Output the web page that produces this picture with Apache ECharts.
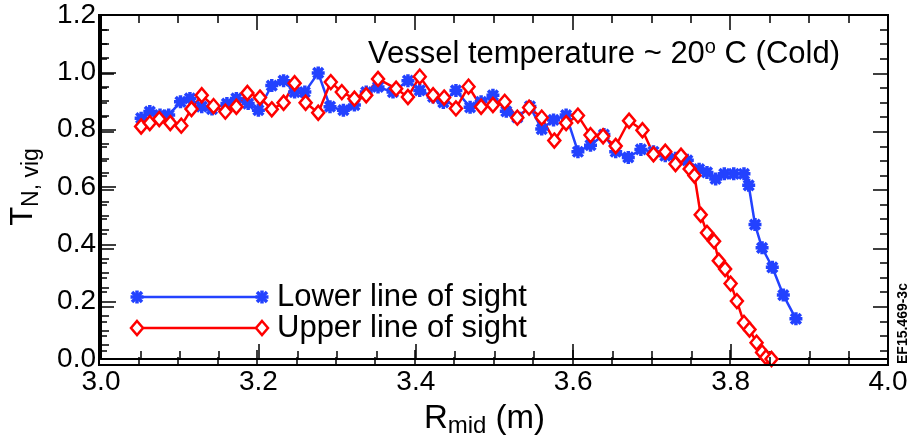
<!DOCTYPE html>
<html lang="en">
<head>
<meta charset="UTF-8">
<title>Vignetting</title>
<style>
  html, body { margin: 0; padding: 0; background: #fff; }
  #wrap { position: relative; width: 915px; height: 443px; }
  #main, #frame { position: absolute; left: 0; top: 0; width: 915px; height: 443px; }
  #frame { pointer-events: none; }
</style>
</head>
<body>
<div id="wrap">
  <div id="main"></div>
  <div id="frame"></div>
</div>
<script type="text/javascript" src="https://cdn.jsdelivr.net/npm/echarts@6/dist/echarts.min.js"></script>
<script type="text/javascript">
// lower line of sight (blue)
var lowerR = [3.051,3.062,3.075,3.086,3.101,3.113,3.128,3.141,3.160,3.172,3.187,3.200,3.217,3.232,3.246,
  3.259,3.276,3.291,3.308,3.322,3.337,3.352,3.371,3.390,3.405,3.422,3.435,3.451,3.469,3.483,
  3.498,3.515,3.529,3.545,3.560,3.575,3.591,3.606,3.622,3.639,3.654,3.670,3.686,3.702,3.717,
  3.730,3.745,3.760,3.770,3.781,3.792,3.804,3.817,3.823,3.831,3.840,3.853,3.867,3.883];
var lowerT = [0.840,0.863,0.851,0.851,0.897,0.909,0.880,0.872,0.891,0.909,0.891,0.868,0.954,0.971,0.931,
  0.931,0.998,0.880,0.868,0.886,0.931,0.949,0.931,0.971,0.937,0.914,0.895,0.937,0.878,0.897,
  0.920,0.864,0.843,0.881,0.802,0.834,0.851,0.723,0.746,0.783,0.723,0.703,0.731,0.723,0.709,
  0.700,0.693,0.662,0.651,0.628,0.646,0.646,0.646,0.606,0.469,0.388,0.320,0.223,0.140];

// upper line of sight (red)
var upperR = [3.051,3.062,3.074,3.088,3.102,3.115,3.128,3.143,3.158,3.172,3.186,3.202,3.217,3.232,3.246,
  3.260,3.276,3.292,3.306,3.322,3.337,3.352,3.375,3.390,3.405,3.422,3.436,3.451,3.467,3.483,
  3.498,3.513,3.529,3.544,3.560,3.576,3.591,3.606,3.622,3.638,3.654,3.671,3.688,3.702,3.717,
  3.730,3.737,3.748,3.754,3.762,3.770,3.779,3.785,3.793,3.800,3.808,3.817,3.824,3.833,3.840,
  3.845,3.852];
var upperT = [0.811,0.823,0.837,0.823,0.814,0.872,0.920,0.882,0.863,0.880,0.928,0.912,0.871,0.894,0.962,
  0.894,0.859,0.966,0.931,0.908,0.920,0.977,0.943,0.914,0.985,0.920,0.912,0.874,0.950,0.880,
  0.886,0.897,0.842,0.877,0.842,0.762,0.823,0.849,0.781,0.777,0.743,0.831,0.798,0.714,0.723,
  0.680,0.709,0.663,0.640,0.503,0.440,0.411,0.343,0.314,0.263,0.202,0.126,0.103,0.057,0.023,
  0.006,0.0];

var seriesNames = ['Lower line of sight', 'Upper line of sight'];
var xTicks = [3.0, 3.2, 3.4, 3.6, 3.8, 4.0];
var yTicks = [0.0, 0.2, 0.4, 0.6, 0.8, 1.0, 1.2];

var BLUE = '#2342ff', RED = '#ff0000';
var FONT = 'Liberation Sans';
// asterisk marker like IDL psym=2
var STAR = 'path://M0,-6L0,6M-6,0L6,0M-4.5,-4.5L4.5,4.5M-4.5,4.5L4.5,-4.5';
var GRID = { left: 99, right: 27, top: 15, bottom: 78 };

function pairs(xs, ys) {
  var out = [];
  for (var i = 0; i < xs.length; i++) out.push([xs[i], ys[i]]);
  return out;
}

function fmt(v) { return v.toFixed(1); }

function xAxis(pos, labels) {
  return {
    type: 'value', position: pos, min: xTicks[0], max: xTicks[xTicks.length - 1], interval: 0.2,
    axisLine: { show: true, onZero: false, lineStyle: { color: '#000', width: 2 } },
    axisTick: { show: true, inside: true, length: 15, lineStyle: { color: '#000', width: 1.5 } },
    minorTick: { show: true, splitNumber: 4, length: 8, lineStyle: { color: '#000', width: 1.5 } },
    splitLine: { show: false },
    axisLabel: { show: labels, fontSize: 28, fontFamily: FONT, color: '#000', margin: 9, formatter: fmt }
  };
}
function yAxis(pos, labels) {
  return {
    type: 'value', position: pos, min: yTicks[0], max: yTicks[yTicks.length - 1], interval: 0.2,
    axisLine: { show: true, onZero: false, lineStyle: { color: '#000', width: 2 } },
    axisTick: { show: true, inside: true, length: 15, lineStyle: { color: '#000', width: 1.5 } },
    minorTick: { show: true, splitNumber: 4, length: 8, lineStyle: { color: '#000', width: 1.5 } },
    splitLine: { show: false },
    axisLabel: { show: labels, fontSize: 28, fontFamily: FONT, color: '#000', margin: 5, formatter: fmt }
  };
}

var xa = xAxis('bottom', true);
xa.name = 'R{sub|mid} (m)';
xa.nameLocation = 'middle';
xa.nameGap = 40;
xa.nameTextStyle = { fontSize: 33, fontFamily: FONT, color: '#000', padding: [0, 20, 0, 0],
  rich: { sub: { fontSize: 24, fontFamily: FONT, padding: [15, 0, 0, 0] } } };

var ya = yAxis('left', true);
ya.name = 'T{sub|N, vig}';
ya.nameLocation = 'middle';
ya.nameRotate = 90;
ya.nameGap = 58;
ya.nameTextStyle = { fontSize: 31, fontFamily: FONT, color: '#000',
  rich: { sub: { fontSize: 23, fontFamily: FONT, padding: [16, 0, 0, 0] } } };

// legend drawn as graphic rows: line with a marker at both ends
function legendRow(y, color, marker, label) {
  var x1 = 137, x2 = 262;
  var els = [{ type: 'line', shape: { x1: x1, y1: y, x2: x2, y2: y }, style: { stroke: color, lineWidth: 2.5 } }];
  [x1, x2].forEach(function (x) {
    if (marker === 'star') {
      [[0, -6.5, 0, 6.5], [-6.5, 0, 6.5, 0], [-5, -5, 5, 5], [-5, 5, 5, -5]].forEach(function (s) {
        els.push({ type: 'line', shape: { x1: x + s[0], y1: y + s[1], x2: x + s[2], y2: y + s[3] },
          style: { stroke: color, lineWidth: 3.5 } });
      });
    } else {
      els.push({ type: 'polygon', shape: { points: [[x, y - 7], [x + 6, y], [x, y + 7], [x - 6, y]] },
        style: { stroke: color, lineWidth: 2.5, fill: '#fff' } });
    }
  });
  els.push({ type: 'text', x: 277, y: y, style: { text: label, fontSize: 31, fontFamily: FONT,
    fill: '#000', verticalAlign: 'middle' } });
  return { type: 'group', children: els };
}

// data, labels, names, title and legend
var myChart = echarts.init(document.getElementById('main'));
myChart.setOption({
  animation: false,
  grid: GRID,
  title: {
    text: 'Vessel temperature ~ 20{sup|o} C (Cold)',
    right: 70, top: 32,
    textStyle: { fontSize: 31, fontWeight: 'normal', fontFamily: FONT, color: '#000',
      rich: { sup: { fontSize: 20, fontFamily: FONT, padding: [0, 0, 15, 0] } } }
  },
  xAxis: [xa],
  yAxis: [ya],
  graphic: [
    legendRow(297, BLUE, 'star', seriesNames[0]),
    legendRow(328, RED, 'diamond', seriesNames[1]),
    { type: 'text', x: 896, y: 364, rotation: Math.PI / 2,
      style: { text: 'EF15.469-3c', fontSize: 14, fontWeight: 'bold', fontFamily: FONT, fill: '#000' } }
  ],
  series: [
    { name: seriesNames[0], type: 'line',
      data: pairs(lowerR, lowerT), symbol: STAR, symbolSize: 13,
      itemStyle: { color: BLUE, borderColor: BLUE, borderWidth: 3.5 },
      lineStyle: { color: BLUE, width: 2.5 } },
    { name: seriesNames[1], type: 'line',
      data: pairs(upperR, upperT), symbol: 'diamond', symbolSize: [12, 14],
      itemStyle: { color: '#fff', borderColor: RED, borderWidth: 2.5 },
      lineStyle: { color: RED, width: 2.5 } }
  ]
});

// box frame with inward ticks on all four sides, same grid and scales
var frameChart = echarts.init(document.getElementById('frame'));
frameChart.setOption({
  animation: false,
  grid: Object.assign({ show: true, borderColor: '#000', borderWidth: 2 }, GRID),
  xAxis: [xAxis('bottom', false), xAxis('top', false)],
  yAxis: [yAxis('left', false), yAxis('right', false)],
  series: []
});
</script>
</body>
</html>
